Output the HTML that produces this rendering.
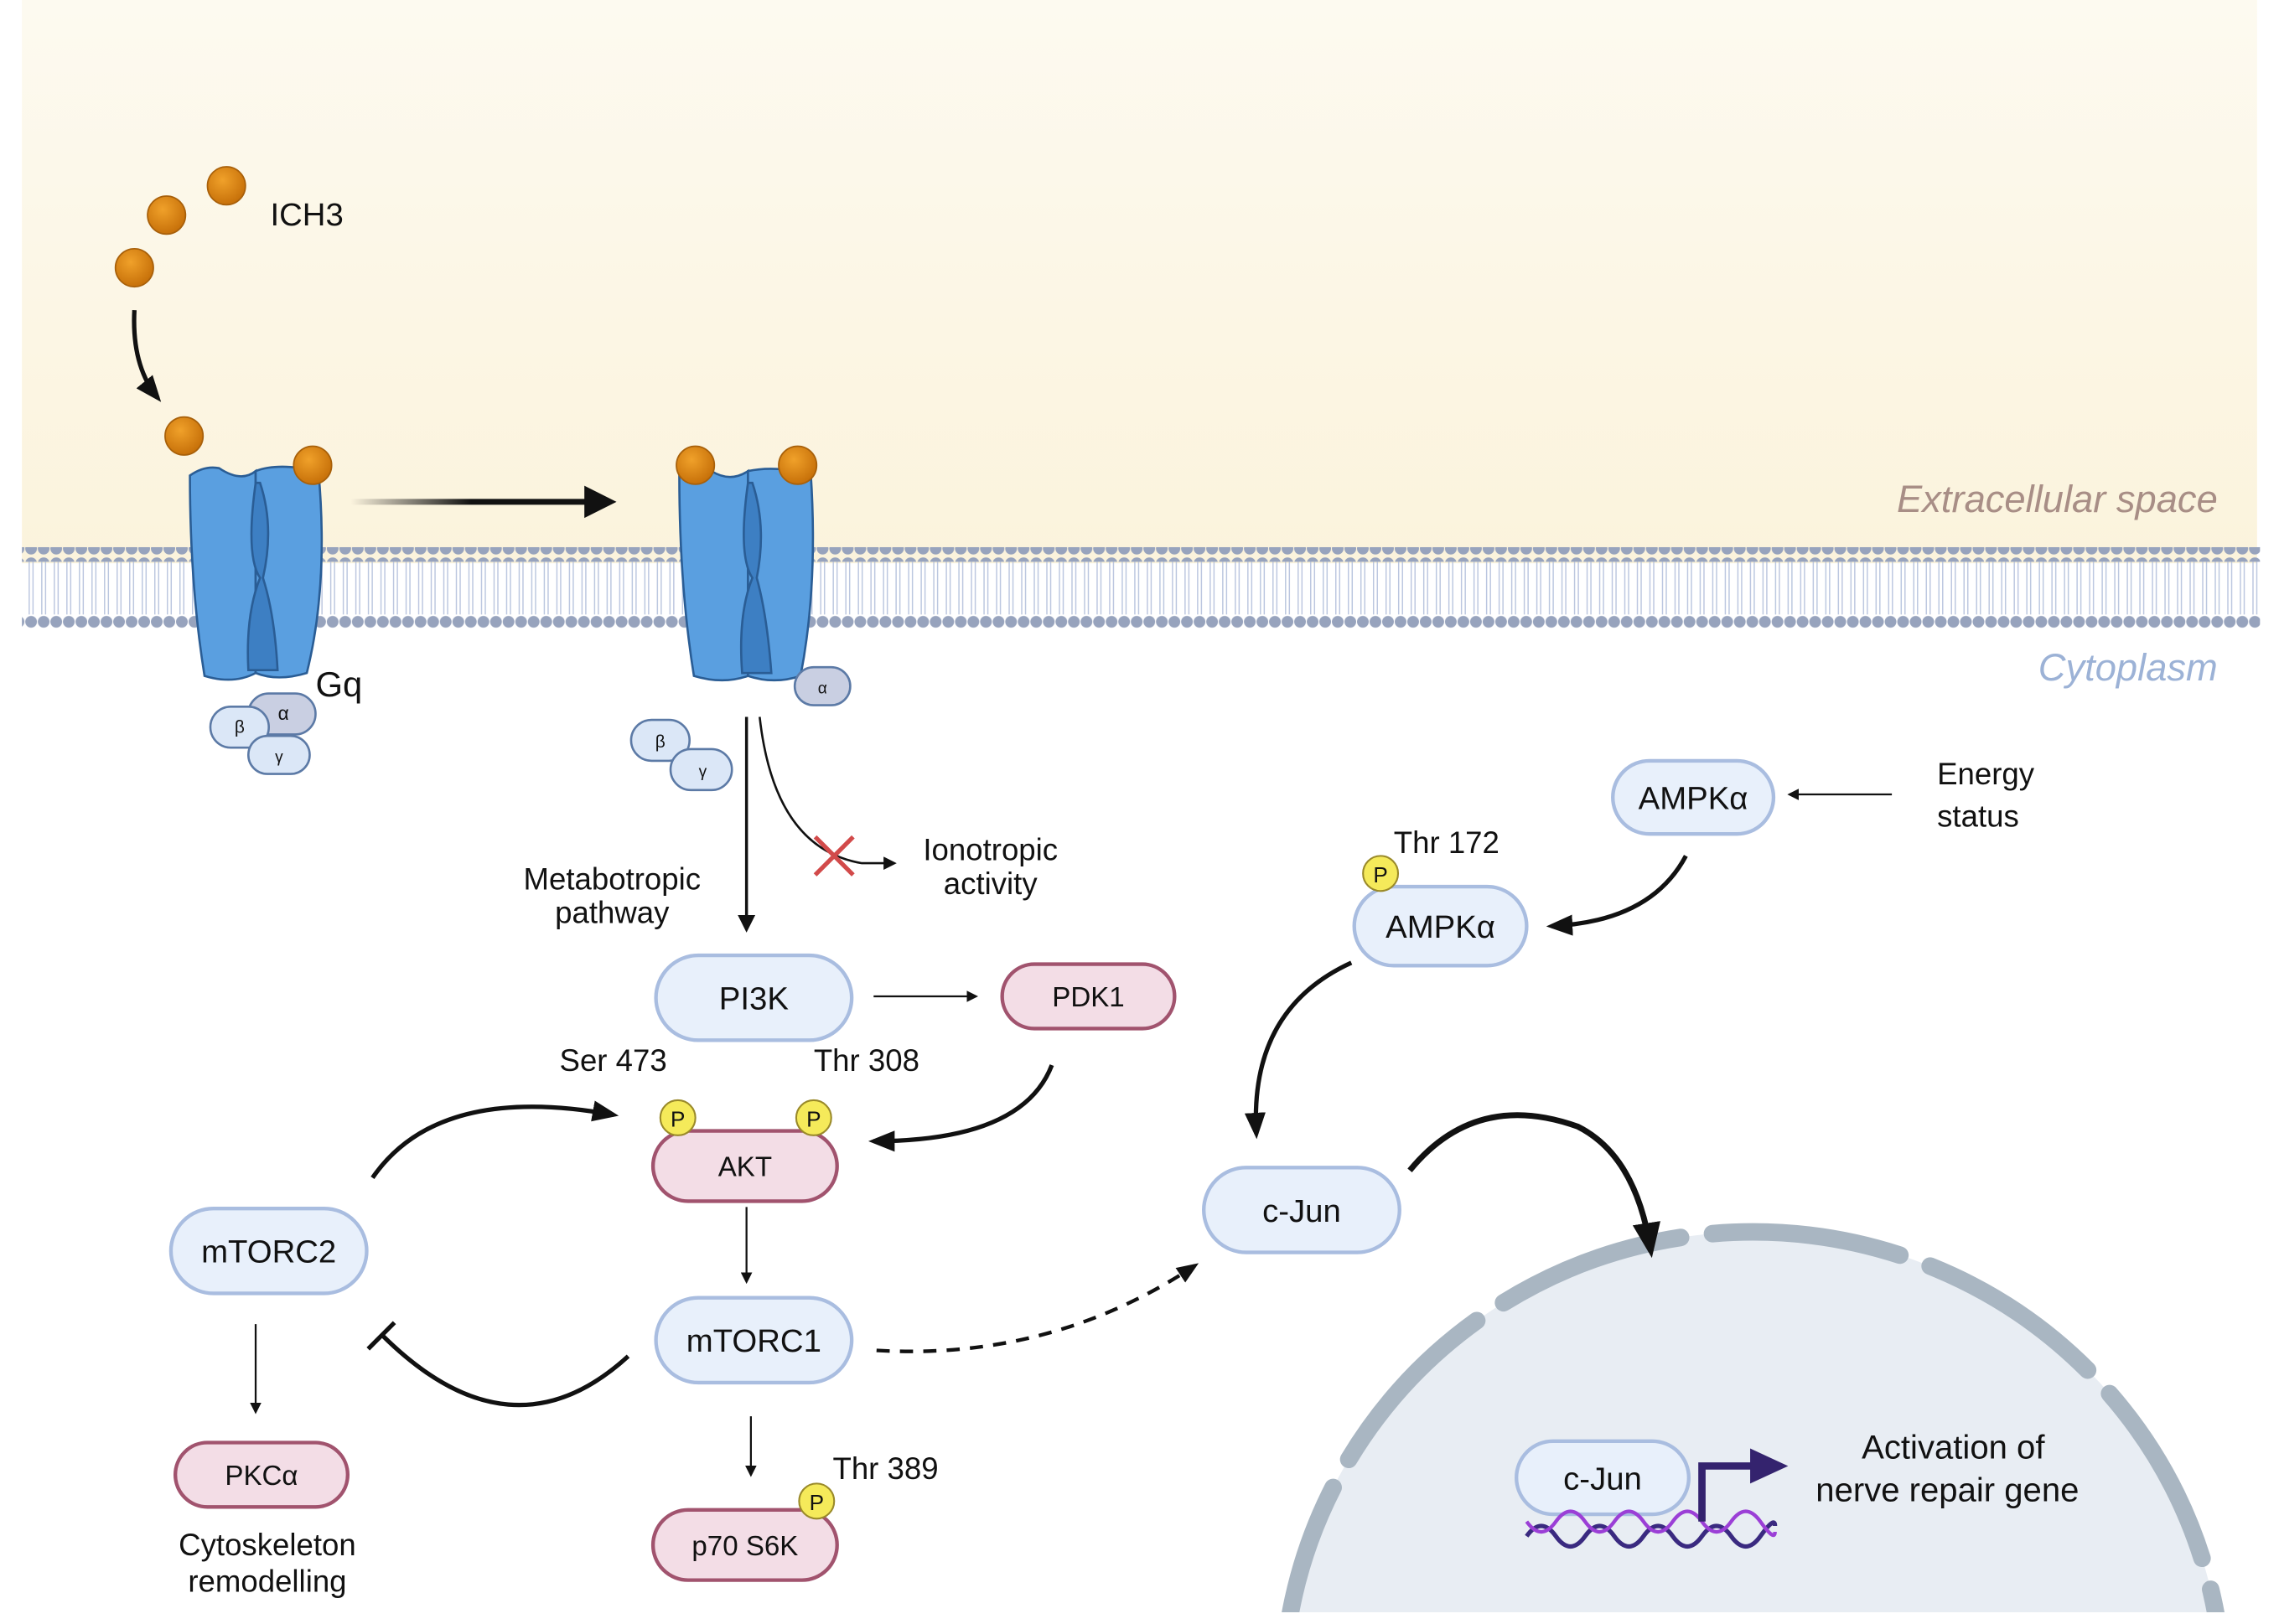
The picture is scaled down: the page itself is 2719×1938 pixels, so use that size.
<!DOCTYPE html>
<html><head><meta charset="utf-8"><style>
html,body{margin:0;padding:0;background:#fff;overflow:hidden;width:2719px;height:1938px}
svg{display:block}
text{font-family:"Liberation Sans",sans-serif;fill:#111}
</style></head><body>
<svg width="2719" height="1938" viewBox="0 0 1560 1110" preserveAspectRatio="none" xmlns="http://www.w3.org/2000/svg">
<defs>
<linearGradient id="bg" x1="0" y1="0" x2="0" y2="1"><stop offset="0" stop-color="#fdfaf0"/><stop offset="1" stop-color="#fbf3dc"/></linearGradient>
<pattern id="heads" x="17" y="0" width="8.6" height="10" patternUnits="userSpaceOnUse"><circle cx="4.3" cy="5" r="4" fill="#97a3bd"/></pattern>
<pattern id="tails" x="17" y="0" width="8.6" height="10" patternUnits="userSpaceOnUse"><line x1="3" y1="0" x2="3" y2="10" stroke="#b8c4de" stroke-width="0.8"/><line x1="5.6" y1="0" x2="5.6" y2="10" stroke="#b8c4de" stroke-width="0.8"/></pattern>
<radialGradient id="ball" cx="0.4" cy="0.35" r="0.7"><stop offset="0" stop-color="#f0a12a"/><stop offset="1" stop-color="#c46d07"/></radialGradient>
<marker id="ah" viewBox="0 0 10 10" refX="8" refY="5" markerWidth="6" markerHeight="6" orient="auto-start-reverse"><path d="M0,0 L10,5 L0,10 z" fill="#111"/></marker>
<marker id="ahs" viewBox="0 0 10 10" refX="8" refY="5" markerWidth="6" markerHeight="6" orient="auto"><path d="M0,1 L10,5 L0,9 z" fill="#111"/></marker>
<linearGradient id="fadeL" gradientUnits="userSpaceOnUse" x1="240" y1="0" x2="405" y2="0"><stop offset="0" stop-color="#111" stop-opacity="0"/><stop offset="0.5" stop-color="#111"/></linearGradient>
<clipPath id="nclip"><rect x="0" y="0" width="1560" height="1102"/></clipPath>
</defs>
<rect x="15" y="0" width="1530" height="385" fill="url(#bg)"/>
<rect x="15" y="374" width="1532" height="10" fill="url(#heads)"/>
<rect x="15" y="384" width="1532" height="36" fill="url(#tails)"/>
<rect x="15" y="420" width="1532" height="10" fill="url(#heads)"/>
<text x="1518" y="350" font-size="26" font-style="italic" text-anchor="end" style="fill:#a88e86">Extracellular space</text>
<text x="1518" y="465" font-size="26" font-style="italic" text-anchor="end" style="fill:#9cb2d6">Cytoplasm</text>

<circle cx="155" cy="127" r="13" fill="url(#ball)" stroke="#a8600a"/>
<circle cx="114" cy="147" r="13" fill="url(#ball)" stroke="#a8600a"/>
<circle cx="92" cy="183" r="13" fill="url(#ball)" stroke="#a8600a"/>
<text x="185" y="154" font-size="22">ICH3</text>
<path d="M92,212 Q90,250 108,272" fill="none" stroke="#111" stroke-width="3" marker-end="url(#ahs)"/>
<circle cx="126" cy="298" r="13" fill="url(#ball)" stroke="#a8600a"/>

<g stroke="#2a5d95" stroke-width="1.5">
<path d="M130,325 Q140,318 150,320 Q165,330 175,322 L175,460 Q160,468 140,462 Q130,400 130,325 z" fill="#5a9fe0"/>
<path d="M175,322 Q190,316 218,322 Q225,400 210,460 Q190,466 175,460 z" fill="#5a9fe0"/>
<path d="M175,330 Q168,380 178,395 Q168,420 170,458 L190,458 Q188,420 180,395 Q188,360 178,330 z" fill="#3d7fc3"/>
</g>
<circle cx="214" cy="318" r="13" fill="url(#ball)" stroke="#a8600a"/>
<text x="216" y="476" font-size="24">Gq</text>
<g stroke="#5c7aa6" stroke-width="1.5">
<rect x="170" y="474" width="46" height="28" rx="14" fill="#c9cfe2"/>
<rect x="144" y="483" width="40" height="28" rx="14" fill="#dbe7f7"/>
<rect x="170" y="503" width="42" height="26" rx="13" fill="#dbe7f7"/>
</g>
<text x="194" y="492" font-size="13" text-anchor="middle">α</text>
<text x="164" y="501" font-size="12" text-anchor="middle">β</text>
<text x="191" y="521" font-size="11" text-anchor="middle">γ</text>

<rect x="240" y="341" width="165" height="4" fill="url(#fadeL)"/>
<path d="M400,332 L422,343 L400,354 z" fill="#111"/>

<g stroke="#2a5d95" stroke-width="1.5">
<path d="M465,325 Q475,320 487,322 Q500,330 512,322 L512,462 Q495,468 475,462 Q465,400 465,325 z" fill="#5a9fe0"/>
<path d="M512,322 Q530,318 555,324 Q560,400 548,462 Q530,468 512,462 z" fill="#5a9fe0"/>
<path d="M512,330 Q505,380 515,395 Q505,420 508,460 L528,460 Q525,420 518,395 Q525,360 515,330 z" fill="#3d7fc3"/>
</g>
<circle cx="476" cy="318" r="13" fill="url(#ball)" stroke="#a8600a"/>
<circle cx="546" cy="318" r="13" fill="url(#ball)" stroke="#a8600a"/>
<rect x="544" y="456" width="38" height="26" rx="13" fill="#c9cfe2" stroke="#5c7aa6" stroke-width="1.5"/>
<text x="563" y="474" font-size="11" text-anchor="middle">α</text>
<rect x="432" y="492" width="40" height="28" rx="14" fill="#dbe7f7" stroke="#5c7aa6" stroke-width="1.5"/>
<rect x="459" y="512" width="42" height="28" rx="14" fill="#dbe7f7" stroke="#5c7aa6" stroke-width="1.5"/>
<text x="452" y="511" font-size="12" text-anchor="middle">β</text>
<text x="481" y="531" font-size="11" text-anchor="middle">γ</text>

<line x1="511" y1="490" x2="511" y2="635" stroke="#111" stroke-width="2" marker-end="url(#ah)"/>
<path d="M520,490 Q530,580 590,590 L612,590" fill="none" stroke="#111" stroke-width="1.5" marker-end="url(#ah)"/>
<path d="M558,572 L584,598 M584,572 L558,598" stroke="#d24a4a" stroke-width="3"/>
<text x="678" y="588" font-size="21" text-anchor="middle">Ionotropic</text>
<text x="678" y="611" font-size="21" text-anchor="middle">activity</text>
<text x="419" y="608" font-size="21" text-anchor="middle">Metabotropic</text>
<text x="419" y="631" font-size="21" text-anchor="middle">pathway</text>

<g clip-path="url(#nclip)">
<ellipse cx="1200" cy="1160" rx="322" ry="318" fill="#e8edf3"/>
<ellipse cx="1200" cy="1160" rx="322" ry="318" fill="none" stroke="#a9b6c2" stroke-width="12" stroke-dasharray="130 22" stroke-dashoffset="40" stroke-linecap="round"/>
</g>

<g stroke-width="2.5">
<rect x="449" y="653" width="134" height="58" rx="29" fill="#e8f0fb" stroke="#a9bde0"/>
<rect x="686" y="659" width="118" height="44" rx="22" fill="#f3dde6" stroke="#a1536e"/>
<rect x="447" y="773" width="126" height="48" rx="24" fill="#f3dde6" stroke="#a1536e"/>
<rect x="117" y="826" width="134" height="58" rx="29" fill="#e8f0fb" stroke="#a9bde0"/>
<rect x="449" y="887" width="134" height="58" rx="29" fill="#e8f0fb" stroke="#a9bde0"/>
<rect x="120" y="986" width="118" height="44" rx="22" fill="#f3dde6" stroke="#a1536e"/>
<rect x="447" y="1032" width="126" height="48" rx="24" fill="#f3dde6" stroke="#a1536e"/>
<rect x="1104" y="520" width="110" height="50" rx="25" fill="#e8f0fb" stroke="#a9bde0"/>
<rect x="927" y="606" width="118" height="54" rx="27" fill="#e8f0fb" stroke="#a9bde0"/>
<rect x="824" y="798" width="134" height="58" rx="29" fill="#e8f0fb" stroke="#a9bde0"/>
<rect x="1038" y="985" width="118" height="50" rx="25" fill="#e8f0fb" stroke="#a9bde0"/>
</g>
<g font-size="22" text-anchor="middle">
<text x="516" y="690">PI3K</text>
<text x="745" y="688" font-size="19">PDK1</text>
<text x="510" y="804" font-size="19">AKT</text>
<text x="184" y="863">mTORC2</text>
<text x="516" y="924">mTORC1</text>
<text x="179" y="1015" font-size="19">PKCα</text>
<text x="510" y="1063" font-size="19">p70 S6K</text>
<text x="1159" y="553">AMPKα</text>
<text x="986" y="641">AMPKα</text>
<text x="891" y="835">c-Jun</text>
<text x="1097" y="1018">c-Jun</text>
</g>
<g stroke="#9a8a2a" stroke-width="1.2" fill="#f5ea5a">
<circle cx="464" cy="764" r="12"/><circle cx="557" cy="764" r="12"/>
<circle cx="559" cy="1026" r="12"/><circle cx="945" cy="597" r="12"/>
</g>
<g font-size="15" text-anchor="middle">
<text x="464" y="770">P</text><text x="557" y="770">P</text><text x="559" y="1032">P</text><text x="945" y="603">P</text>
</g>
<g font-size="21">
<text x="383" y="732">Ser 473</text>
<text x="557" y="732">Thr 308</text>
<text x="570" y="1011">Thr 389</text>
<text x="954" y="583">Thr 172</text>
<text x="1326" y="536">Energy</text>
<text x="1326" y="565">status</text>
<text x="183" y="1063" text-anchor="middle">Cytoskeleton</text>
<text x="183" y="1088" text-anchor="middle">remodelling</text>
<text x="1337" y="997" text-anchor="middle" font-size="23">Activation of</text>
<text x="1333" y="1026" text-anchor="middle" font-size="23">nerve repair gene</text>
</g>

<g fill="none" stroke="#111">
<line x1="598" y1="681" x2="668" y2="681" stroke-width="1.3" marker-end="url(#ah)"/>
<path d="M720,728 Q700,780 598,780" stroke-width="3" marker-end="url(#ahs)"/>
<path d="M255,805 Q300,740 420,762" stroke-width="3" marker-end="url(#ahs)"/>
<line x1="511" y1="825" x2="511" y2="876" stroke-width="1.3" marker-end="url(#ah)"/>
<line x1="514" y1="968" x2="514" y2="1008" stroke-width="1.3" marker-end="url(#ah)"/>
<line x1="175" y1="905" x2="175" y2="965" stroke-width="1.3" marker-end="url(#ah)"/>
<path d="M430,927 Q350,1000 262,913" stroke-width="3"/>
<line x1="252" y1="922" x2="270" y2="904" stroke-width="3"/>
<path d="M600,923 Q720,930 818,865" stroke-width="2.5" stroke-dasharray="9 7" marker-end="url(#ahs)"/>
<line x1="1295" y1="543" x2="1225" y2="543" stroke-width="1.3" marker-end="url(#ah)"/>
<path d="M1154,585 Q1130,630 1062,633" stroke-width="3" marker-end="url(#ahs)"/>
<path d="M925,658 Q855,690 860,775" stroke-width="3" marker-end="url(#ahs)"/>
<path d="M965,800 Q1010,745 1080,770 Q1120,790 1130,855" stroke-width="4" marker-end="url(#ahs)"/>
</g>
<path d="M1045,1050 q10,-14 20,0 t20,0 t20,0 t20,0 t20,0 t20,0 t20,0 t20,0 t10,-7" fill="none" stroke="#3a2a80" stroke-width="3"/>
<path d="M1045,1040 q10,14 20,0 t20,0 t20,0 t20,0 t20,0 t20,0 t20,0 t20,0 t10,7" fill="none" stroke="#9b3fd6" stroke-width="2.5"/>
<path d="M1165,1040 L1165,1002 L1200,1002" fill="none" stroke="#34236e" stroke-width="5"/>
<path d="M1198,990 L1224,1002 L1198,1014 z" fill="#34236e"/>
</svg>
</body></html>
